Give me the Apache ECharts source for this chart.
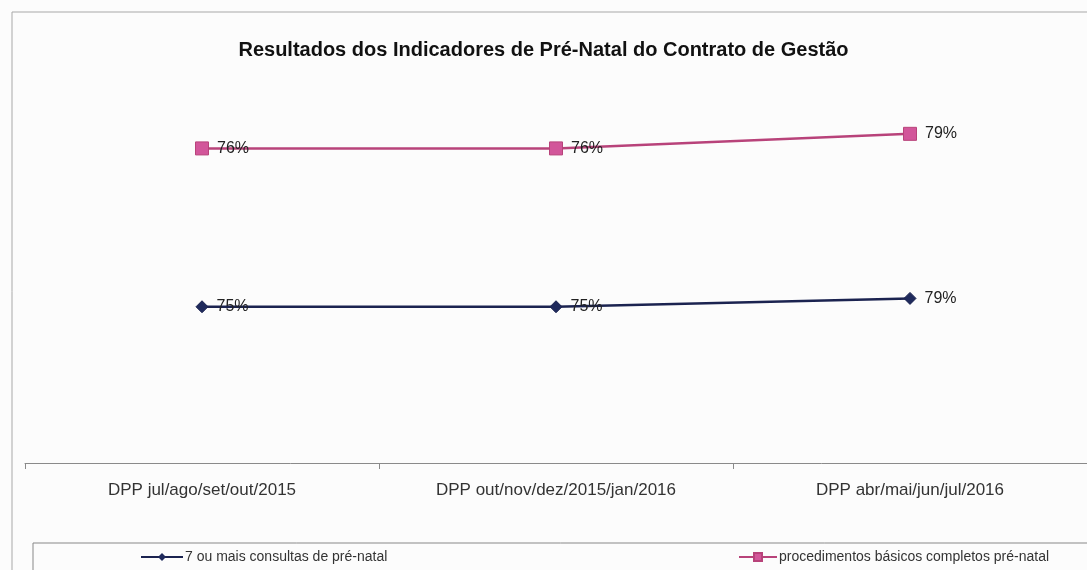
<!DOCTYPE html>
<html>
<head>
<meta charset="utf-8">
<script src="https://cdn.jsdelivr.net/npm/echarts@6/dist/echarts.min.js"></script>
<style>
html,body{margin:0;padding:0;background:#fcfcfc;}
#c{width:1087px;height:570px;}
</style>
</head>
<body>
<div id="c"></div>
<script>
const titleText = 'Resultados dos Indicadores de Pré-Natal do Contrato de Gestão';
const categories = ['DPP jul/ago/set/out/2015', 'DPP out/nov/dez/2015/jan/2016', 'DPP abr/mai/jun/jul/2016'];
const seriesNames = ['7 ou mais consultas de pré-natal', 'procedimentos básicos completos pré-natal'];
const consultas = [75, 75, 79];
const procedimentos = [76, 76, 79];

const chart = echarts.init(document.getElementById('c'), null, {renderer: 'canvas'});
const font = 'Liberation Sans, Arial, sans-serif';
chart.setOption({
  backgroundColor: '#fcfcfc',
  animation: false,
  title: {
    text: titleText,
    left: 'center',
    top: 35,
    textStyle: {fontFamily: font, fontSize: 20, fontWeight: 'bold', color: '#111'}
  },
  graphic: [
    {type: 'rect', shape: {x: 12, y: 12, width: 1200, height: 700}, style: {fill: 'none', stroke: '#a8a8a8', lineWidth: 1}, z: -1},
    {type: 'rect', shape: {x: 33, y: 543, width: 1200, height: 100}, style: {fill: 'none', stroke: '#888', lineWidth: 1}, z: -1}
  ],
  legend: [
    {
      data: [seriesNames[0]], left: 135, top: 545,
      itemWidth: 42, itemHeight: 10, itemGap: 4,
      textStyle: {fontFamily: font, fontSize: 14, color: '#333', padding: [0, 0, 0, -3]}
    },
    {
      data: [seriesNames[1]], left: 733, top: 545,
      itemWidth: 38, itemHeight: 10, itemGap: 4,
      textStyle: {fontFamily: font, fontSize: 14, color: '#333', padding: [0, 0, 0, -3]}
    }
  ],
  grid: {left: 25, right: 0, top: 88, bottom: 107, containLabel: false},
  xAxis: {
    type: 'category',
    data: categories,
    boundaryGap: true,
    axisLine: {lineStyle: {color: '#8a8a8a', width: 1}},
    axisTick: {show: true, length: 6, lineStyle: {color: '#8a8a8a'}},
    axisLabel: {fontFamily: font, fontSize: 17, color: '#333', margin: 19}
  },
  yAxis: {
    type: 'value', min: 0, max: 180, show: false,
    splitLine: {show: false}
  },
  series: [
    {
      name: seriesNames[0], type: 'line', stack: 'total', data: consultas,
      symbol: 'diamond', symbolSize: 12,
      lineStyle: {color: '#1b2350', width: 2.5},
      itemStyle: {color: '#1f2a5c', borderColor: '#1b2350'},
      label: {show: true, position: 'right', distance: 8, formatter: '{c}%', fontFamily: font, fontSize: 16, color: '#222'}
    },
    {
      name: seriesNames[1], type: 'line', stack: 'total', data: procedimentos,
      symbol: 'rect', symbolSize: 13,
      lineStyle: {color: '#b8437a', width: 2.5},
      itemStyle: {color: '#d2569a', borderColor: '#b8437a', borderWidth: 1},
      label: {show: true, position: 'right', distance: 8, formatter: '{c}%', fontFamily: font, fontSize: 16, color: '#222'}
    }
  ]
});
</script>
</body>
</html>
